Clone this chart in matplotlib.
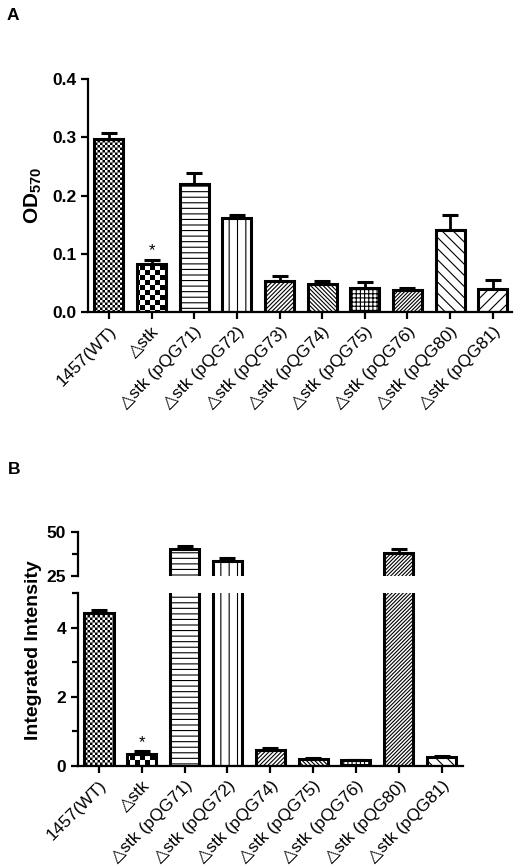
import warnings
import numpy as np
import matplotlib
matplotlib.use('Agg')
import matplotlib.pyplot as plt
import matplotlib.hatch as mhatch
from matplotlib.path import Path
from matplotlib.ticker import FormatStrFormatter, FixedLocator

warnings.filterwarnings('ignore', category=matplotlib.MatplotlibDeprecationWarning)

# ---- data ----
strains_a = ['1457(WT)', '△stk', '△stk (pQG71)', '△stk (pQG72)', '△stk (pQG73)',
             '△stk (pQG74)', '△stk (pQG75)', '△stk (pQG76)', '△stk (pQG80)', '△stk (pQG81)']
od570 = [0.297, 0.083, 0.220, 0.162, 0.054, 0.048, 0.041, 0.037, 0.140, 0.039]
od570_err = [0.010, 0.007, 0.018, 0.005, 0.008, 0.006, 0.011, 0.004, 0.026, 0.016]

strains_b = ['1457(WT)', '△stk', '△stk (pQG71)', '△stk (pQG72)', '△stk (pQG74)',
             '△stk (pQG75)', '△stk (pQG76)', '△stk (pQG80)', '△stk (pQG81)']
intensity = [4.43, 0.36, 40.0, 33.4, 0.47, 0.19, 0.16, 38.1, 0.27]
intensity_err = [0.08, 0.06, 1.7, 1.8, 0.05, 0.03, 0.02, 1.9, 0.03]

hatches_a = ['cccc', 'cc', '---', '||', '////////', '\\' * 8, '++++', '/' * 9, '\\\\\\', '///']
hatches_b = ['cccc', 'cc', '---', '||', '////////', '\\' * 8, '++++', '/' * 9, '\\\\\\']


# checkerboard hatch ('c'), graphpad style
class CheckerHatch(mhatch.HatchPatternBase):
    def __init__(self, hatch, density):
        self.n = hatch.count('c') * 10
        self.num_vertices = (self.n * self.n // 2) * 5

    def set_vertices_and_codes(self, vertices, codes):
        n = self.n
        s = 1.0 / n
        d = 0.0055  # shrink a bit, hatch lines are stroked too
        k = 0
        for i in range(n):
            for j in range(n):
                if (i + j) % 2:
                    continue
                x, y = i * s, j * s
                vertices[k:k + 5] = [(x + d, y + d), (x + s - d, y + d), (x + s - d, y + s - d),
                                     (x + d, y + s - d), (x + d, y + d)]
                codes[k:k + 5] = [Path.MOVETO, Path.LINETO, Path.LINETO, Path.LINETO, Path.CLOSEPOLY]
                k += 5


mhatch._hatch_types.append(CheckerHatch)

plt.rcParams['font.family'] = ['Liberation Sans', 'DejaVu Sans']
plt.rcParams['mathtext.fontset'] = 'custom'
plt.rcParams['mathtext.bf'] = 'Liberation Sans:bold'
plt.rcParams['hatch.linewidth'] = 0.8


def draw_bars(ax, values, errors, hatches):
    x = np.arange(len(values))
    bars = ax.bar(x, values, width=0.68, color='white', edgecolor='black', linewidth=2.2, zorder=2)
    for b, h in zip(bars, hatches):
        b.set_hatch(h)
    ax.errorbar(x, values, yerr=[np.zeros(len(values)), errors], fmt='none', ecolor='black',
                elinewidth=2.0, capsize=6, capthick=2.2, zorder=3)
    return x


def style_axis(ax):
    for side in ['top', 'right']:
        ax.spines[side].set_visible(False)
    for side in ['left', 'bottom']:
        ax.spines[side].set_linewidth(1.6)
    ax.tick_params(axis='both', which='both', direction='out', width=1.6, labelsize=12.5)
    ax.tick_params(axis='both', which='major', length=5)
    ax.tick_params(axis='y', which='minor', length=4)


W, H = 526, 868
fig = plt.figure(figsize=(W / 100, H / 100), dpi=100)

# ---- panel A ----
ax_a = fig.add_axes([88 / W, 1 - 312 / H, (512 - 88) / W, (312 - 79) / H])
x = draw_bars(ax_a, od570, od570_err, hatches_a)
ax_a.set_ylim(0, 0.4)
ax_a.set_xlim(-0.49, 9.45)
ax_a.set_yticks([0.0, 0.1, 0.2, 0.3, 0.4])
ax_a.yaxis.set_major_formatter(FormatStrFormatter('%.1f'))
ax_a.set_xticks(x)
ax_a.set_xticklabels(strains_a, rotation=45, ha='right', rotation_mode='anchor', fontsize=12.5)
style_axis(ax_a)
for t in ax_a.get_yticklabels():
    t.set_fontweight('bold')
ax_a.set_ylabel(r'$\mathbf{OD_{570}}$', fontsize=15, labelpad=6)
ax_a.annotate('*', (1, od570[1] + od570_err[1]), xytext=(0, 1), textcoords='offset points',
              ha='center', va='bottom', fontsize=12)
fig.text(7 / W, 1 - 20 / H, 'A', fontsize=12.5, fontweight='bold')

# ---- panel B (broken y axis) ----
left_b, right_b = 78 / W, (463 - 78) / W
ax_top = fig.add_axes([left_b, 1 - 575.7 / H, right_b, 44 / H])
ax_bot = fig.add_axes([left_b, 1 - 766 / H, right_b, 173 / H], sharex=ax_top)

for ax in (ax_top, ax_bot):
    xb = draw_bars(ax, intensity, intensity_err, hatches_b)
    style_axis(ax)

ax_top.set_ylim(25, 50)
ax_top.set_yticks([25, 50])
ax_top.yaxis.set_minor_locator(FixedLocator([37.5]))
ax_top.spines['bottom'].set_visible(False)
ax_top.tick_params(axis='x', which='both', bottom=False, labelbottom=False)

ax_bot.set_ylim(0, 5)
ax_bot.set_yticks([0, 2, 4])
ax_bot.yaxis.set_minor_locator(FixedLocator([1, 3, 5]))
ax_bot.set_xlim(-0.49, 8.5)
ax_bot.set_xticks(xb)
ax_bot.set_xticklabels(strains_b, rotation=45, ha='right', rotation_mode='anchor', fontsize=12.5)
for ax in (ax_top, ax_bot):
    for t in ax.get_yticklabels():
        t.set_fontweight('bold')
ax_bot.annotate('*', (1, intensity[1] + intensity_err[1]), xytext=(0, 1), textcoords='offset points',
                ha='center', va='bottom', fontsize=12)

fig.text(34 / W, 1 - 650 / H, 'Integrated Intensity', rotation=90, fontsize=14,
         fontweight='bold', ha='center', va='center')
fig.text(8 / W, 1 - 474 / H, 'B', fontsize=12.5, fontweight='bold')

fig.savefig('out.png', dpi=100)
